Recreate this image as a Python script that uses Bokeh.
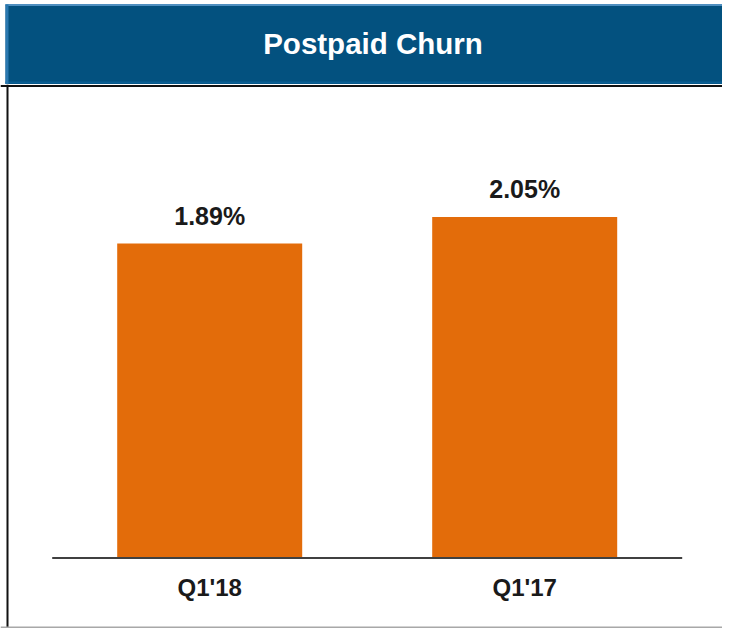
from bokeh.plotting import figure
from bokeh.layouts import column
from bokeh.models import Range1d, ColumnDataSource, Span
from bokeh.core.properties import value
from bokeh.embed import file_html
from bokeh.resources import INLINE

# ---- data ----
title_text = "Postpaid Churn"
categories = ["Q1'18", "Q1'17"]
churn = [1.89, 2.05]
labels = ["1.89%", "2.05%"]

FONT = "Liberation Sans"
BLUE = "#03517F"
ORANGE = "#E36C0A"

W = 722
TH = 84
# ---- title banner ----
top = figure(width=W, height=TH, output_backend="svg", toolbar_location=None,
             x_range=Range1d(0, W), y_range=Range1d(TH, 0), min_border=0)
top.axis.visible = False
top.grid.visible = False
top.outline_line_color = None
top.background_fill_color = "white"
top.border_fill_color = "white"
top.quad(left=[5], right=[W + 10], top=[4], bottom=[TH + 2], fill_color=BLUE,
         line_color=None)
top.quad(left=[5], right=[W + 10], top=[3.5], bottom=[5.5], fill_color="#4f8fc0",
         line_color=None)
top.quad(left=[5], right=[W + 10], top=[81], bottom=[83], fill_color="#0b5f93",
         line_color=None)
top.quad(left=[5], right=[8], top=[4], bottom=[TH + 2], fill_color="#2a78b0",
         line_color=None)
top.text(x=[372.5], y=[42.5], text=[title_text], text_color="white",
         text_font=value(FONT), text_font_style="bold", text_font_size="29.5px",
         text_align="center", text_baseline="alphabetic")

# ---- bar chart ----
H = 544
px_x = 315.0      # pixels per category
px_y = 166.4      # pixels per percentage point
base_px = 557.5 - TH
x_start = 0.5 - 209.2 / px_x
x_end = x_start + W / px_x
y_end = base_px / px_y
y_start = -(H - base_px) / px_y

p = figure(width=W, height=H, output_backend="svg", toolbar_location=None,
           x_range=Range1d(x_start, x_end), y_range=Range1d(y_start, y_end),
           min_border=0)
p.axis.visible = False
p.grid.visible = False
p.outline_line_color = None
p.background_fill_color = "white"
p.border_fill_color = "white"

xs = [i + 0.5 for i in range(len(categories))]
src = ColumnDataSource(dict(x=xs, top=churn, label=labels, cat=categories))

p.vbar(x="x", top="top", bottom=0, width=185 / px_x, source=src,
       fill_color=ORANGE, line_color=None)

p.segment(x0=[0], y0=[0], x1=[len(categories)], y1=[0],
          line_color="#404040", line_width=2)

p.text(x="x", y="top", text="label", source=src, y_offset=-27.5,
       text_font=value(FONT), text_font_style="bold", text_font_size="25px",
       text_color="#1a1a1a", text_align="center", text_baseline="alphabetic")

p.text(x="x", y=0, text="cat", source=src, y_offset=29.5,
       text_font=value(FONT), text_font_style="bold", text_font_size="24px",
       text_color="#1a1a1a", text_align="center", text_baseline="alphabetic")

# panel borders
p.add_layout(Span(location=x_start + 7 / px_x, dimension="height",
                  line_color="#111111", line_width=2))
p.add_layout(Span(location=y_end - 1.5 / px_y, dimension="width",
                  line_color="#111111", line_width=2))
p.add_layout(Span(location=y_start + 1 / px_y, dimension="width",
                  line_color="#a8a8a8", line_width=2))

layout = column(top, p, spacing=0)
open("out.html", "w").write(file_html(layout, INLINE))
